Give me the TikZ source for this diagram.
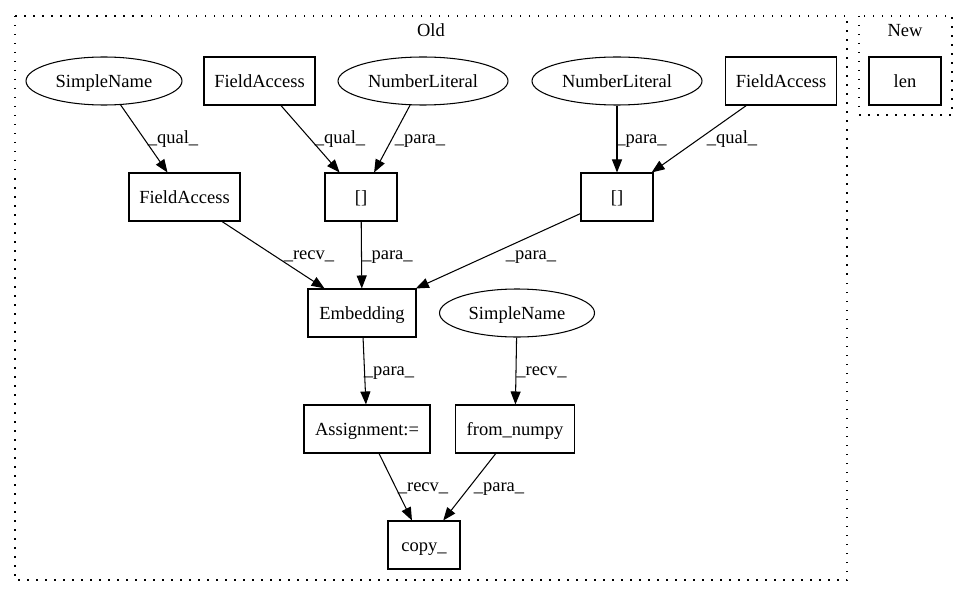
\documentclass[tikz,border=0pt]{standalone}
\usepackage{fontspec}
\setmainfont{Liberation Serif}
\usetikzlibrary{arrows.meta,shapes.geometric}
\begin{document}
\begin{tikzpicture}[x=1pt,y=-1pt,
  every node/.style={font=\fontsize{18.5}{22}\selectfont, text height=12.6pt, text depth=0pt, inner sep=0pt},
  boxn/.style={draw, line width=1.05pt, rectangle, minimum height=48pt},
  elln/.style={draw, line width=1.05pt, ellipse, minimum height=48pt},
  conn/.style={line width=1.05pt, -{Triangle[length=13pt,width=10pt]}},
  clus/.style={line width=1.3pt, dash pattern=on 1.5pt off 7.5pt}]
\useasboundingbox (0,0) rectangle (968,596);
% clusters
\draw[clus] (15,16) rectangle (847,580);
\draw[clus] (859,16) rectangle (952,115);
\node (oldlbl) at (431,30.2) {Old};
\node (newlbl) at (905,30.2) {New};
% nodes
\node[elln, minimum width=156pt] (sn1) at (104,81) {SimpleName};
\node[boxn, minimum width=111pt] (fa1) at (259.5,81) {FieldAccess};
\node[elln, minimum width=170pt] (nl1) at (423,81) {NumberLiteral};
\node[elln, minimum width=170pt] (nl2) at (617,81) {NumberLiteral};
\node[boxn, minimum width=111pt] (fa2) at (781,81) {FieldAccess};
\node[boxn, minimum width=72pt] (len) at (905,81) {len};
\node[boxn, minimum width=111pt] (fa3) at (184.5,197) {FieldAccess};
\node[boxn, minimum width=72pt] (br1) at (361,197) {[]};
\node[boxn, minimum width=72pt] (br2) at (617,197) {[]};
\node[boxn, minimum width=108pt] (emb) at (362,313) {Embedding};
\node[elln, minimum width=155pt] (sn2) at (517,313) {SimpleName};
\node[boxn, minimum width=126pt] (asg) at (367,429) {Assignment:=};
\node[boxn, minimum width=119pt] (fnp) at (515,429) {from\_numpy};
\node[boxn, minimum width=72pt] (cpy) at (424,545) {copy\_};
% edges
\draw[conn] (sn1) -- (fa3);
\draw[conn] (fa1) -- (br1);
\draw[conn] (nl1) -- (br1);
\draw[conn] (nl2) -- (br2);
\draw[conn] (fa2) -- (br2);
\draw[conn] (fa3) -- (emb);
\draw[conn] (br1) -- (emb);
\draw[conn] (br2) -- (emb);
\draw[conn] (emb) -- (asg);
\draw[conn] (sn2) -- (fnp);
\draw[conn] (asg) -- (cpy);
\draw[conn] (fnp) -- (cpy);
% edge labels
\node (l1) at (173,137.5) {\_qual\_};
\node (l2) at (340,137.5) {\_qual\_};
\node (l3) at (420,137.5) {\_para\_};
\node (l4) at (641.5,137.5) {\_para\_};
\node (l5) at (732,137.5) {\_qual\_};
\node (l6) at (309,253.5) {\_recv\_};
\node (l7) at (387.5,253.5) {\_para\_};
\node (l8) at (531,253.5) {\_para\_};
\node (l9) at (389,369.5) {\_para\_};
\node (l10) at (541.5,369.5) {\_recv\_};
\node (l11) at (423,485.5) {\_recv\_};
\node (l12) at (499,485.5) {\_para\_};
\end{tikzpicture}
\end{document}
